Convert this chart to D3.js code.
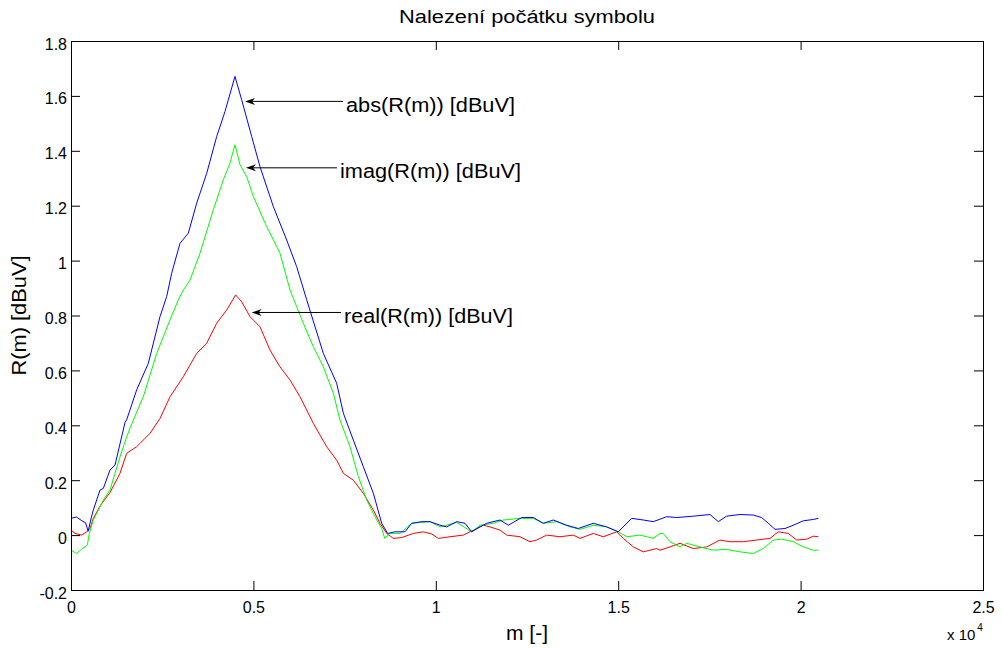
<!DOCTYPE html>
<html>
<head>
<meta charset="utf-8">
<script src="https://cdn.jsdelivr.net/npm/d3@7"></script>
<style>
  html, body { margin: 0; padding: 0; background: #fff; }
  svg { display: block; font-family: "Liberation Sans", Arial, Helvetica, sans-serif; }
</style>
</head>
<body>
<svg id="chart" width="1002" height="648"></svg>
<script>
// ---- data ----
const titleText = "Nalezení počátku symbolu";
const xLabelText = "m [-]";
const yLabelText = "R(m) [dBuV]";
const xTickValues = [0, 5000, 10000, 15000, 20000, 25000];
const xTickLabels = ["0", "0.5", "1", "1.5", "2", "2.5"];
const yTickValues = [-0.2, 0, 0.2, 0.4, 0.6, 0.8, 1.0, 1.2, 1.4, 1.6, 1.8];
const yTickLabels = ["-0.2", "0", "0.2", "0.4", "0.6", "0.8", "1", "1.2", "1.4", "1.6", "1.8"];

const absData = [[0,0.061],[150,0.066],[300,0.052],[400,0.045],[470,0.014],[560,0.066],[611,0.091],[795,0.164],[886,0.17],[1069,0.237],[1206,0.255],[1480,0.41],[1526,0.42],[1800,0.529],[2120,0.626],[2440,0.796],[2623,0.869],[2760,0.954],[2988,1.063],[3216,1.1],[3445,1.209],[3720,1.318],[3994,1.452],[4221,1.543],[4495,1.671],[4678,1.586],[4953,1.452],[5181,1.342],[5546,1.197],[5912,1.075],[6186,0.978],[6461,0.857],[6917,0.662],[7283,0.553],[7466,0.444],[7740,0.346],[8014,0.249],[8289,0.152],[8517,0.043],[8680,0.006],[8882,0.012],[9156,0.012],[9339,0.043],[9613,0.049],[9841,0.049],[10115,0.036],[10298,0.03],[10573,0.049],[10801,0.043],[10984,0.012],[11212,0.03],[11395,0.043],[11760,0.055],[11988,0.036],[12354,0.064],[12673,0.064],[12947,0.043],[13221,0.055],[13587,0.036],[13906,0.024],[14317,0.043],[14683,0.03],[15003,0.012],[15369,0.061],[15688,0.055],[15962,0.049],[16329,0.067],[16603,0.064],[17059,0.069],[17516,0.075],[17745,0.049],[17973,0.069],[18339,0.075],[18704,0.073],[18932,0.064],[19115,0.043],[19298,0.021],[19572,0.024],[19800,0.036],[20074,0.052],[20349,0.057],[20486,0.061]];

const imagData = [[0,-0.055],[155,-0.067],[300,-0.05],[384,-0.043],[448,-0.036],[503,0.006],[612,0.055],[795,0.103],[886,0.128],[1069,0.164],[1206,0.225],[1343,0.285],[1526,0.358],[1708,0.419],[1982,0.504],[2349,0.662],[2714,0.784],[2942,0.857],[3079,0.893],[3262,0.929],[3536,1.027],[3901,1.185],[4175,1.294],[4358,1.355],[4495,1.422],[4633,1.349],[4816,1.306],[4999,1.233],[5364,1.124],[5729,1.027],[6003,0.893],[6368,0.772],[6643,0.686],[6917,0.613],[7191,0.517],[7374,0.419],[7648,0.322],[7877,0.213],[8105,0.128],[8333,0.067],[8517,0.024],[8600,-0.012],[8745,0.006],[9019,0.006],[9339,0.043],[9841,0.049],[10115,0.03],[10573,0.046],[10984,0.012],[11212,0.036],[11577,0.043],[11851,0.055],[12308,0.061],[12673,0.061],[12947,0.043],[13313,0.049],[13678,0.03],[13953,0.021],[14317,0.036],[14683,0.03],[15003,0.012],[15232,-0.006],[15597,0],[15962,-0.012],[16146,0.006],[16237,0.006],[16420,-0.024],[16694,-0.043],[16877,-0.03],[17242,-0.043],[17608,-0.055],[17973,-0.052],[18339,-0.061],[18704,-0.067],[18978,-0.049],[19252,-0.018],[19481,-0.015],[19800,-0.024],[20074,-0.043],[20349,-0.055],[20486,-0.055]];

const realData = [[0,0.018],[110,0.006],[293,0],[430,0.012],[521,0.024],[612,0.061],[795,0.106],[1069,0.155],[1343,0.225],[1526,0.298],[1800,0.322],[1891,0.334],[2166,0.371],[2440,0.425],[2714,0.504],[3079,0.577],[3445,0.662],[3720,0.699],[3994,0.772],[4268,0.82],[4514,0.875],[4678,0.85],[4907,0.796],[5181,0.759],[5455,0.674],[5729,0.613],[6003,0.565],[6277,0.504],[6643,0.407],[7009,0.322],[7283,0.273],[7466,0.225],[7740,0.2],[8014,0.152],[8289,0.091],[8471,0.043],[8654,0.006],[8836,-0.012],[9065,-0.009],[9385,0.006],[9659,0.012],[9887,0.004],[10069,-0.012],[10389,-0.006],[10754,0],[11029,0.018],[11303,0.036],[11486,0.03],[11760,0.018],[11943,0],[12308,-0.006],[12582,-0.024],[12765,-0.018],[13039,0],[13404,-0.006],[13769,0],[13953,-0.012],[14317,0.006],[14592,-0.006],[14958,0.012],[15140,-0.012],[15415,-0.043],[15688,-0.061],[16055,-0.049],[16146,-0.055],[16420,-0.043],[16694,-0.03],[17059,-0.049],[17425,-0.043],[17790,-0.018],[18064,-0.024],[18430,-0.024],[18796,-0.018],[19161,-0.012],[19389,0.012],[19663,0.006],[19893,-0.018],[20167,-0.015],[20349,-0.004],[20486,-0.006]];

const seriesNames = ["real", "imag", "abs"];
const seriesColors = ["#ff0000", "#00ff00", "#0000ff"];

// annotations: label, arrow tip (data), arrow tail (data)
const annLabels = ["abs(R(m)) [dBuV]", "imag(R(m)) [dBuV]", "real(R(m)) [dBuV]"];
const annTipM = [4770, 4797, 4953];
const annTipV = [1.58, 1.338, 0.811];
const annTailM = [7456, 7292, 7401];

// ---- drawing ----
const svg = d3.select("#chart");
const L = 71, R = 983, T = 41, B = 590;
const x = d3.scaleLinear().domain([0, 25000]).range([L, R]);
const y = d3.scaleLinear().domain([-0.2, 1.8]).range([B, T]);

// title
svg.append("text").attr("x", (L + R) / 2).attr("y", 23)
  .attr("text-anchor", "middle").attr("font-size", 18)
  .attr("textLength", 256).attr("lengthAdjust", "spacingAndGlyphs")
  .text(titleText);

// lines
const line = d3.line().x(d => x(d[0])).y(d => y(d[1]));
const allSeries = [realData, imagData, absData];
allSeries.forEach((data, i) => {
  svg.append("path").datum(data)
    .attr("fill", "none").attr("stroke", seriesColors[i])
    .attr("stroke-width", 1).attr("stroke-linejoin", "round")
    .attr("d", line);
});

// axes (inward ticks on all four sides)
const tickLen = 9;
const xAxisB = d3.axisBottom(x).tickValues(xTickValues).tickSizeInner(-tickLen).tickSizeOuter(0)
  .tickFormat((d, i) => xTickLabels[i]).tickPadding(14);
const xAxisT = d3.axisTop(x).tickValues(xTickValues).tickSizeInner(-tickLen).tickSizeOuter(0).tickFormat("");
const yAxisL = d3.axisLeft(y).tickValues(yTickValues).tickSizeInner(-tickLen).tickSizeOuter(0)
  .tickFormat((d, i) => yTickLabels[i]).tickPadding(14);
const yAxisR = d3.axisRight(y).tickValues(yTickValues).tickSizeInner(-tickLen).tickSizeOuter(0).tickFormat("");

function style(g) {
  g.selectAll("path.domain").attr("stroke", "#000").attr("stroke-width", 1);
  g.selectAll(".tick line").attr("stroke", "#000").attr("stroke-width", 1);
  g.selectAll(".tick text").attr("fill", "#000").attr("font-size", 16)
    .attr("font-family", "'Liberation Sans', Arial, sans-serif");
}
const gB = svg.append("g").attr("transform", `translate(0,${B})`).call(xAxisB).call(style);
gB.selectAll(".tick text").attr("dy", null).attr("y", 23);
svg.append("g").attr("transform", `translate(0,${T})`).call(xAxisT).call(style);
const gL = svg.append("g").attr("transform", `translate(${L},0)`).call(yAxisL).call(style);
gL.selectAll(".tick text").attr("dy", null).attr("x", -4).attr("y", 8);
svg.append("g").attr("transform", `translate(${R},0)`).call(yAxisR).call(style);
svg.selectAll("path.domain").attr("shape-rendering", "crispEdges");

// axis labels
svg.append("text").attr("x", (L + R) / 2).attr("y", 640)
  .attr("text-anchor", "middle").attr("font-size", 20)
  .attr("textLength", 42).attr("lengthAdjust", "spacingAndGlyphs")
  .text(xLabelText);
svg.append("text")
  .attr("transform", `translate(26,${(T + B) / 2}) rotate(-90)`)
  .attr("text-anchor", "middle").attr("font-size", 20)
  .attr("textLength", 120).attr("lengthAdjust", "spacingAndGlyphs")
  .text(yLabelText);

// exponent label
const expG = svg.append("text").attr("x", 947).attr("y", 640).attr("font-size", 15);
expG.append("tspan").text("x 10");
expG.append("tspan").attr("font-size", 10).attr("dy", -9).attr("dx", 2).text("4");

// annotations
const annWidths = [169, 181, 169];
annLabels.forEach((lab, i) => {
  const tx = x(annTipM[i]), ty = y(annTipV[i]);
  const ex = x(annTailM[i]);
  svg.append("line").attr("x1", tx + 6).attr("y1", ty).attr("x2", ex).attr("y2", ty)
    .attr("stroke", "#000").attr("stroke-width", 1);
  svg.append("path")
    .attr("d", `M${tx},${ty} L${tx + 10},${ty - 3.5} L${tx + 7},${ty} L${tx + 10},${ty + 3.5} Z`)
    .attr("fill", "#000");
  svg.append("text").attr("x", ex + 3).attr("y", ty + 10.5)
    .attr("font-size", 20)
    .attr("textLength", annWidths[i]).attr("lengthAdjust", "spacingAndGlyphs")
    .text(lab);
});
</script>
</body>
</html>
